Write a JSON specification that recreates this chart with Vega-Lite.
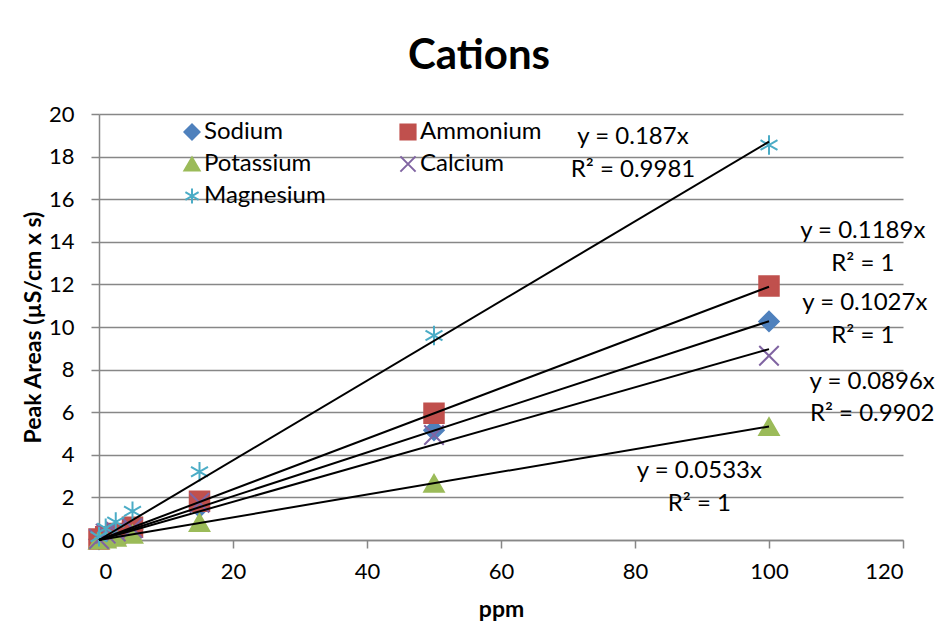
{
  "$schema": "https://vega.github.io/schema/vega-lite/v6.json",
  "autosize": {"type": "none"},
  "width": 804,
  "height": 426,
  "padding": {"left": 99, "top": 114, "right": 39, "bottom": 85},
  "background": "white",
  "title": {"text": "Cations", "font": "Lato", "fontSize": 42, "fontWeight": "bold", "color": "black", "anchor": "middle", "frame": "group", "dx": -22, "baseline": "alphabetic", "offset": -8},
  "config": {
    "font": "Lato",
    "view": {"stroke": null},
    "axis": {"labelFont": "Lato", "titleFont": "Lato", "labelColor": "black", "titleColor": "black", "domainColor": "#878787", "tickColor": "#878787", "gridColor": "#878787", "domainWidth": 1.5, "tickWidth": 1.5, "gridWidth": 1.5, "tickSize": 8, "labelFontSize": 22, "titleFontSize": 23, "titleFontWeight": "bold"}
  },
  "datasets": {
    "points": [
      {"ion": "Sodium", "ppm": 0, "area": 0.03},
      {"ion": "Sodium", "ppm": 1, "area": 0.1},
      {"ion": "Sodium", "ppm": 2.5, "area": 0.26},
      {"ion": "Sodium", "ppm": 5, "area": 0.5},
      {"ion": "Sodium", "ppm": 15, "area": 1.55},
      {"ion": "Sodium", "ppm": 50, "area": 5.15},
      {"ion": "Sodium", "ppm": 100, "area": 10.26},
      {"ion": "Ammonium", "ppm": 0, "area": 0.05},
      {"ion": "Ammonium", "ppm": 1, "area": 0.15},
      {"ion": "Ammonium", "ppm": 2.5, "area": 0.3},
      {"ion": "Ammonium", "ppm": 5, "area": 0.6},
      {"ion": "Ammonium", "ppm": 15, "area": 1.82},
      {"ion": "Ammonium", "ppm": 50, "area": 5.95},
      {"ion": "Ammonium", "ppm": 100, "area": 11.92},
      {"ion": "Potassium", "ppm": 0, "area": 0.0},
      {"ion": "Potassium", "ppm": 1, "area": 0.05},
      {"ion": "Potassium", "ppm": 2.5, "area": 0.13},
      {"ion": "Potassium", "ppm": 5, "area": 0.27},
      {"ion": "Potassium", "ppm": 15, "area": 0.82},
      {"ion": "Potassium", "ppm": 50, "area": 2.66},
      {"ion": "Potassium", "ppm": 100, "area": 5.32},
      {"ion": "Calcium", "ppm": 0, "area": 0.05},
      {"ion": "Calcium", "ppm": 1, "area": 0.3},
      {"ion": "Calcium", "ppm": 2.5, "area": 0.4},
      {"ion": "Calcium", "ppm": 5, "area": 0.55},
      {"ion": "Calcium", "ppm": 15, "area": 1.75},
      {"ion": "Calcium", "ppm": 50, "area": 4.93},
      {"ion": "Calcium", "ppm": 100, "area": 8.65},
      {"ion": "Magnesium", "ppm": 0, "area": 0.15},
      {"ion": "Magnesium", "ppm": 1, "area": 0.55},
      {"ion": "Magnesium", "ppm": 2.5, "area": 0.85},
      {"ion": "Magnesium", "ppm": 5, "area": 1.35},
      {"ion": "Magnesium", "ppm": 15, "area": 3.2},
      {"ion": "Magnesium", "ppm": 50, "area": 9.6},
      {"ion": "Magnesium", "ppm": 100, "area": 18.54}
    ],
    "trend": [
      {"ion": "Sodium", "ppm": 0, "area": 0},
      {"ion": "Sodium", "ppm": 100, "area": 10.27},
      {"ion": "Ammonium", "ppm": 0, "area": 0},
      {"ion": "Ammonium", "ppm": 100, "area": 11.89},
      {"ion": "Potassium", "ppm": 0, "area": 0},
      {"ion": "Potassium", "ppm": 100, "area": 5.33},
      {"ion": "Calcium", "ppm": 0, "area": 0},
      {"ion": "Calcium", "ppm": 100, "area": 8.96},
      {"ion": "Magnesium", "ppm": 0, "area": 0},
      {"ion": "Magnesium", "ppm": 100, "area": 18.7}
    ],
    "labels": [
      {"label": "y = 0.187x", "ppm": 79.7, "area": 18.9},
      {"label": "R² = 0.9981", "ppm": 79.7, "area": 17.35},
      {"label": "y = 0.1189x", "ppm": 114.0, "area": 14.5},
      {"label": "R² = 1", "ppm": 114.0, "area": 12.95},
      {"label": "y = 0.1027x", "ppm": 114.3, "area": 11.15},
      {"label": "R² = 1", "ppm": 114.0, "area": 9.58},
      {"label": "y = 0.0896x", "ppm": 115.4, "area": 7.42},
      {"label": "R² = 0.9902", "ppm": 115.4, "area": 5.92},
      {"label": "y = 0.0533x", "ppm": 89.6, "area": 3.24},
      {"label": "R² = 1", "ppm": 89.6, "area": 1.69}
    ]
  },
  "layer": [
    {
      "data": {"name": "points"},
      "mark": {"type": "point", "filled": true, "size": 380, "strokeWidth": 2, "opacity": 1},
      "encoding": {
        "x": {"field": "ppm", "type": "quantitative", "scale": {"domain": [0, 120], "nice": false}, "axis": {"values": [0, 20, 40, 60, 80, 100, 120], "grid": false, "labelPadding": 13, "title": "ppm", "titleY": 76, "titleBaseline": "alphabetic"}},
        "y": {"field": "area", "type": "quantitative", "scale": {"domain": [0, 20], "nice": false}, "axis": {"values": [0, 2, 4, 6, 8, 10, 12, 14, 16, 18, 20], "grid": true, "labelPadding": 17, "title": "Peak Areas (µS/cm x s)", "titleX": -66, "titleY": 213, "titleAngle": -90, "titleAlign": "center", "titleBaseline": "middle"}},
        "color": {"field": "ion", "type": "nominal", "scale": {"domain": ["Sodium", "Potassium", "Magnesium", "Ammonium", "Calcium"], "range": ["#4F81BD", "#9BBB59", "#4BACC6", "#C0504D", "#8064A2"]}, "legend": {"title": null, "orient": "none", "legendX": 81, "legendY": 6, "columns": 2, "columnPadding": 70, "rowPadding": 8, "labelFontSize": 24, "labelFont": "Lato", "labelColor": "black", "symbolSize": 230, "symbolStrokeWidth": 2, "labelOffset": 0}},
        "stroke": {"field": "ion", "type": "nominal", "scale": {"domain": ["Sodium", "Potassium", "Magnesium", "Ammonium", "Calcium"], "range": ["#4F81BD", "#9BBB59", "#4BACC6", "#C0504D", "#8064A2"]}, "legend": {"title": null, "orient": "none", "legendX": 81, "legendY": 6, "columns": 2, "columnPadding": 70, "rowPadding": 8, "labelFontSize": 24, "labelFont": "Lato", "labelColor": "black", "symbolSize": 230, "symbolStrokeWidth": 2, "labelOffset": 0}},
        "shape": {"field": "ion", "type": "nominal", "scale": {"domain": ["Sodium", "Potassium", "Magnesium", "Ammonium", "Calcium"], "range": ["diamond", "triangle-up", "M0,-1L0,1M-0.87,-0.5L0.87,0.5M-0.87,0.5L0.87,-0.5", "square", "M-1,-1L1,1M-1,1L1,-1"]}, "legend": {"title": null, "orient": "none", "legendX": 81, "legendY": 6, "columns": 2, "columnPadding": 70, "rowPadding": 8, "labelFontSize": 24, "labelFont": "Lato", "labelColor": "black", "symbolSize": 230, "symbolStrokeWidth": 2, "labelOffset": 0}}
      }
    },
    {
      "data": {"name": "trend"},
      "mark": {"type": "line", "color": "black", "strokeWidth": 2},
      "encoding": {
        "x": {"field": "ppm", "type": "quantitative"},
        "y": {"field": "area", "type": "quantitative"},
        "detail": {"field": "ion", "type": "nominal"}
      }
    },
    {
      "data": {"name": "labels"},
      "mark": {"type": "text", "fontSize": 24, "font": "Lato", "color": "black", "align": "center", "baseline": "middle"},
      "encoding": {
        "x": {"field": "ppm", "type": "quantitative"},
        "y": {"field": "area", "type": "quantitative"},
        "text": {"field": "label", "type": "nominal"}
      }
    }
  ]
}
